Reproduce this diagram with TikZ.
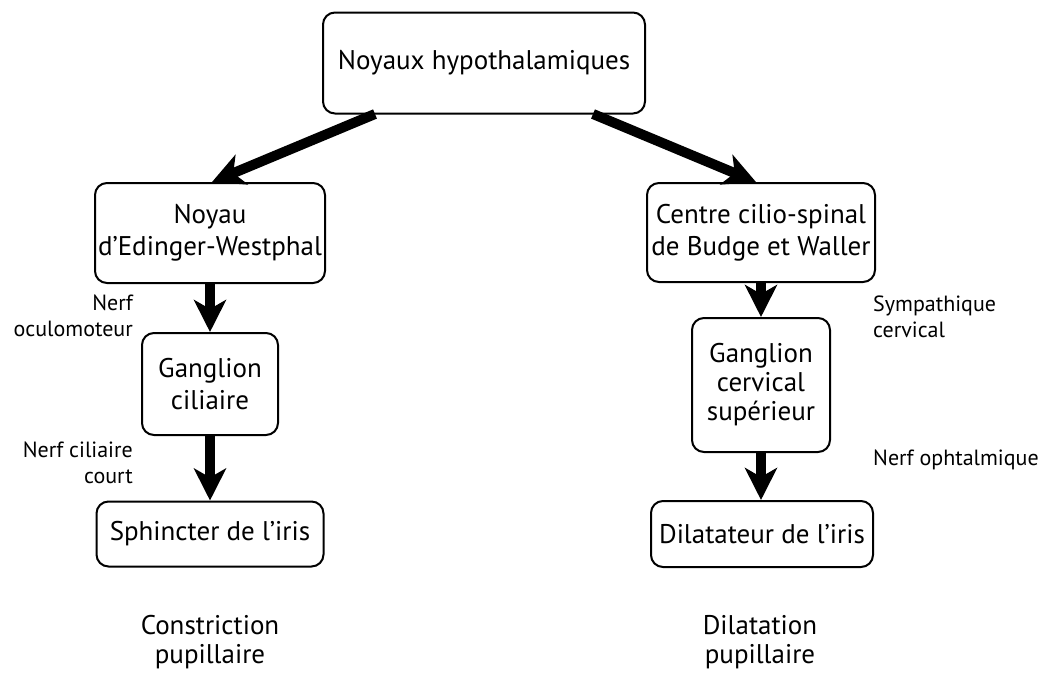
\documentclass[tikz,border=0pt]{standalone}
\usepackage{fontspec}
\setmainfont{PT Sans}
\usetikzlibrary{arrows.meta}
\begin{document}
\begin{tikzpicture}[x=1pt,y=-1pt,
  box/.style={draw,line width=2pt,rounded corners=12pt,align=center,inner sep=0pt,font=\fontsize{27}{32}\selectfont},
  lbl/.style={font=\fontsize{22}{26}\selectfont,inner sep=0pt},
  big/.style={line width=10pt,-{Stealth[length=32pt,width=32pt,inset=9pt]}},
  res/.style={font=\fontsize{27}{29}\selectfont,align=center,inner sep=0pt}]
\useasboundingbox (0,0) rectangle (1046,672);
\node[box,minimum width=322pt,minimum height=101pt] (top) at (484,63) {Noyaux hypothalamiques};
\node[box,minimum width=230pt,minimum height=100pt] (ew) at (210,233) {Noyau\\d’Edinger-Westphal};
\node[box,minimum width=228pt,minimum height=99pt] (cc) at (761,232.5) {Centre cilio-spinal\\de Budge et Waller};
\node[box,minimum width=136pt,minimum height=102pt] (gc) at (210,384) {Ganglion\\ciliaire};
\node[box,minimum width=138pt,minimum height=134pt,font=\fontsize{27}{29}\selectfont] (gs) at (761,385) {Ganglion\\cervical\\supérieur};
\node[box,minimum width=227pt,minimum height=65pt] (sp) at (210,534) {Sphincter de l’iris};
\node[box,minimum width=222pt,minimum height=66pt] (di) at (762,534) {Dilatateur de l’iris};

\coordinate (t1) at (375,114);
\coordinate (t2) at (593,114);
\draw[big] (t1) -- (ew.north -| 212,0);
\draw[big] (t2) -- (cc.north -| 756,0);
\draw[big] (ew.south -| gc.north) -- (gc.north);
\draw[big] (gs.north |- cc.south) -- (gs.north);
\draw[big] (gc.south) -- (gc.south |- sp.north);
\draw[big] (gs.south) -- (gs.south |- di.north);

\node[lbl,anchor=east,align=right] (l1) at (133,316) {Nerf\\oculomoteur};
\node[lbl,anchor=east,align=right] (l2) at (133,463) {Nerf ciliaire\\court};
\node[lbl,anchor=west,align=left] (l3) at (873,317) {Sympathique\\cervical};
\node[lbl,anchor=base west] (l4) at (873,465) {Nerf ophtalmique};
\node[res] (r1) at (210,642) {Constriction\\pupillaire};
\node[res] (r2) at (760,642) {Dilatation\\pupillaire};
\end{tikzpicture}
\end{document}
